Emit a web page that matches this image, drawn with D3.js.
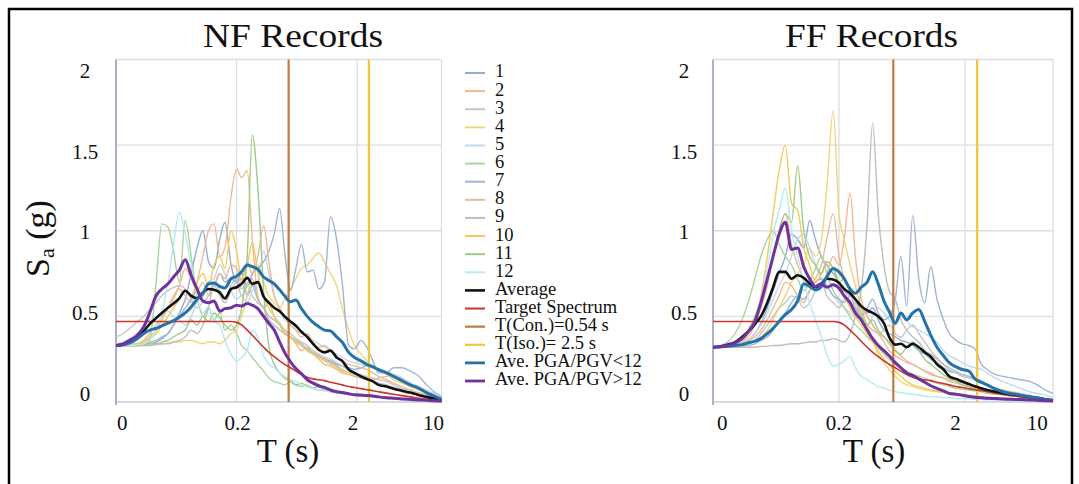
<!DOCTYPE html>
<html>
<head>
<meta charset="utf-8">
<script src="https://cdnjs.cloudflare.com/ajax/libs/d3/7.8.5/d3.min.js"></script>
<style>
  body { margin: 0; background: #fff; }
  svg { display: block; font-family: "Liberation Serif", "Times New Roman", serif; }
</style>
</head>
<body>
<svg id="chart" width="1079" height="484"></svg>
<script>
// Spectral periods T (s) shared by every spectrum
const periods = [
  0.02, 0.023, 0.026, 0.03, 0.034, 0.038, 0.043, 0.048, 0.054, 0.06,
  0.067, 0.075, 0.084, 0.094, 0.105, 0.117, 0.13, 0.145, 0.16, 0.18,
  0.2, 0.22, 0.245, 0.27, 0.3, 0.335, 0.37, 0.41, 0.455, 0.5,
  0.56, 0.62, 0.69, 0.77, 0.86, 0.96, 1.07, 1.2, 1.35, 1.5,
  1.7, 1.9, 2.15, 2.4, 2.7, 3.0, 3.5, 4.0, 4.7, 5.5,
  6.5, 7.5, 8.7, 10
];

// Design (target) spectrum, Sa in g
const targetSpectrum = [
  0.47,0.47,0.47,0.47,0.47,0.47,0.47,0.47,0.47,0.47,
  0.47,0.47,0.47,0.47,0.47,0.47,0.47,0.47,0.47,0.47,
  0.465,0.45,0.42,0.39,0.355,0.32,0.29,0.265,0.24,0.22,
  0.20,0.18,0.16,0.145,0.135,0.13,0.125,0.115,0.108,0.10,
  0.09,0.085,0.078,0.072,0.066,0.06,0.052,0.045,0.037,0.03,
  0.022,0.016,0.01,0.005
];

const periodConv = 0.54;   // T(Con.)
const periodIso = 2.5;     // T(Iso.)

// Near-fault records 1..12
const nfRecords = [
  [0.33,0.33,0.33,0.33,0.335,0.34,0.35,0.37,0.40,0.45,
   0.52,0.60,0.75,0.90,1.00,0.82,0.78,0.95,1.05,0.80,
   0.70,0.75,0.62,0.68,0.60,0.55,0.50,0.48,0.45,0.40,
   0.38,0.35,0.33,0.30,0.28,0.27,0.25,0.24,0.22,0.21,
   0.20,0.19,0.20,0.21,0.20,0.18,0.17,0.15,0.12,0.10,
   0.08,0.06,0.04,0.02],
  [0.33,0.33,0.335,0.34,0.35,0.38,0.42,0.48,0.55,0.62,
   0.66,0.62,0.58,0.70,0.85,1.00,1.04,0.85,0.90,1.20,
   1.36,1.31,1.35,0.95,0.62,0.55,0.58,0.50,0.46,0.40,
   0.38,0.34,0.30,0.32,0.28,0.25,0.22,0.21,0.19,0.17,
   0.16,0.15,0.14,0.13,0.13,0.14,0.15,0.16,0.14,0.11,
   0.08,0.055,0.035,0.015],
  [0.38,0.40,0.43,0.47,0.50,0.54,0.58,0.62,0.65,0.67,
   0.68,0.66,0.60,0.55,0.58,0.62,0.70,0.65,0.60,0.68,
   0.72,0.66,0.70,0.62,0.58,0.55,0.50,0.48,0.46,0.42,
   0.40,0.37,0.35,0.33,0.30,0.28,0.26,0.25,0.23,0.21,
   0.19,0.17,0.16,0.15,0.14,0.13,0.12,0.10,0.08,0.07,
   0.055,0.045,0.035,0.02],
  [0.33,0.33,0.33,0.33,0.33,0.335,0.34,0.34,0.345,0.35,
   0.35,0.36,0.36,0.35,0.34,0.35,0.35,0.34,0.36,0.40,
   0.42,0.50,0.62,0.75,0.80,0.70,0.62,0.58,0.55,0.60,
   0.66,0.72,0.78,0.80,0.84,0.87,0.82,0.75,0.68,0.55,
   0.42,0.33,0.28,0.24,0.21,0.19,0.16,0.13,0.11,0.09,
   0.07,0.05,0.035,0.02],
  [0.34,0.35,0.37,0.40,0.44,0.48,0.50,0.52,0.53,0.50,
   0.48,0.45,0.50,0.58,0.62,0.70,0.72,0.80,0.75,0.65,
   0.60,0.62,0.58,0.65,0.70,0.88,0.75,0.62,0.55,0.48,
   0.45,0.42,0.40,0.38,0.36,0.34,0.32,0.30,0.28,0.26,
   0.24,0.23,0.22,0.21,0.20,0.19,0.18,0.16,0.14,0.11,
   0.09,0.07,0.05,0.03],
  [0.33,0.33,0.33,0.335,0.34,0.36,0.70,1.04,1.02,0.88,
   0.70,1.06,0.85,0.62,0.50,0.55,0.48,0.52,0.42,0.45,
   0.40,0.33,0.30,0.26,0.22,0.18,0.14,0.12,0.11,0.10,
   0.12,0.10,0.09,0.10,0.08,0.07,0.07,0.06,0.055,0.05,
   0.045,0.045,0.04,0.035,0.03,0.03,0.025,0.02,0.02,0.015,
   0.012,0.01,0.008,0.005],
  [0.33,0.33,0.33,0.335,0.34,0.35,0.36,0.38,0.40,0.45,
   0.50,0.55,0.60,0.65,0.62,0.70,0.68,0.75,0.70,0.72,
   0.70,0.72,0.68,0.75,0.78,0.82,0.88,0.98,1.13,0.88,
   0.65,0.78,0.92,0.76,0.77,0.66,0.70,1.08,0.95,0.70,
   0.33,0.31,0.36,0.32,0.24,0.17,0.17,0.20,0.20,0.18,
   0.15,0.10,0.06,0.03],
  [0.33,0.33,0.335,0.34,0.36,0.40,0.45,0.50,0.55,0.60,
   0.68,0.78,0.72,0.65,0.70,0.62,0.68,0.75,0.72,0.80,
   0.78,0.70,0.82,0.75,0.85,1.03,0.82,0.62,0.55,0.50,
   0.45,0.42,0.38,0.40,0.35,0.32,0.33,0.30,0.26,0.24,
   0.22,0.21,0.20,0.19,0.17,0.15,0.13,0.11,0.09,0.07,
   0.05,0.04,0.03,0.015],
  [0.33,0.33,0.33,0.33,0.33,0.33,0.335,0.34,0.34,0.35,
   0.36,0.38,0.42,0.40,0.45,0.55,0.68,0.62,0.58,0.65,
   0.70,0.62,0.68,0.72,0.60,0.55,0.48,0.45,0.42,0.40,
   0.38,0.36,0.34,0.31,0.29,0.27,0.25,0.23,0.21,0.19,
   0.17,0.15,0.14,0.13,0.12,0.11,0.10,0.085,0.07,0.055,
   0.045,0.035,0.025,0.015],
  [0.33,0.33,0.335,0.34,0.35,0.37,0.40,0.45,0.50,0.55,
   0.60,0.65,0.62,0.70,0.75,0.68,0.80,0.85,0.78,1.00,
   0.88,0.72,0.80,0.93,0.75,0.62,0.55,0.50,0.45,0.42,
   0.38,0.35,0.33,0.30,0.28,0.26,0.24,0.22,0.20,0.18,
   0.17,0.16,0.15,0.14,0.12,0.10,0.09,0.08,0.06,0.05,
   0.04,0.03,0.02,0.01],
  [0.33,0.33,0.33,0.33,0.335,0.34,0.34,0.35,0.36,0.38,
   0.40,0.42,0.48,0.45,0.50,0.47,0.52,0.49,0.45,0.42,
   0.45,0.55,0.85,1.56,1.25,0.65,0.33,0.22,0.17,0.14,
   0.12,0.10,0.11,0.09,0.08,0.09,0.07,0.065,0.06,0.055,
   0.05,0.045,0.045,0.04,0.035,0.03,0.028,0.025,0.02,0.018,
   0.015,0.012,0.008,0.005],
  [0.33,0.33,0.33,0.335,0.34,0.36,0.42,0.52,0.70,0.92,
   1.11,0.98,0.80,0.62,0.52,0.56,0.47,0.45,0.36,0.28,
   0.24,0.26,0.30,0.42,0.38,0.27,0.22,0.20,0.17,0.15,
   0.13,0.12,0.10,0.09,0.08,0.07,0.065,0.06,0.055,0.05,
   0.045,0.04,0.038,0.035,0.03,0.028,0.025,0.02,0.018,0.015,
   0.012,0.01,0.008,0.005]
];

const nfAverage = [
  0.33,0.335,0.35,0.38,0.415,0.455,0.49,0.52,0.55,0.575,
  0.605,0.65,0.62,0.605,0.64,0.66,0.655,0.64,0.605,0.66,
  0.67,0.69,0.725,0.69,0.70,0.615,0.58,0.55,0.53,0.50,
  0.47,0.445,0.41,0.38,0.34,0.305,0.29,0.30,0.26,0.24,
  0.19,0.17,0.15,0.135,0.12,0.10,0.09,0.078,0.066,0.055,
  0.04,0.03,0.02,0.01
];
const nfAveLow = [   // PGA/PGV < 12
  0.33,0.335,0.345,0.37,0.40,0.42,0.43,0.445,0.46,0.475,
  0.495,0.52,0.555,0.60,0.635,0.69,0.695,0.675,0.665,0.72,
  0.735,0.76,0.80,0.79,0.775,0.73,0.71,0.69,0.655,0.62,
  0.585,0.595,0.545,0.50,0.465,0.44,0.42,0.415,0.38,0.35,
  0.29,0.26,0.24,0.22,0.205,0.19,0.17,0.15,0.125,0.10,
  0.08,0.055,0.035,0.015
];
const nfAveHigh = [  // PGA/PGV > 12
  0.33,0.34,0.36,0.39,0.44,0.52,0.62,0.66,0.69,0.73,
  0.77,0.83,0.74,0.66,0.59,0.58,0.59,0.53,0.545,0.55,
  0.565,0.56,0.575,0.565,0.545,0.50,0.46,0.42,0.35,0.29,
  0.235,0.195,0.165,0.13,0.11,0.095,0.085,0.07,0.06,0.055,
  0.048,0.042,0.04,0.038,0.035,0.03,0.025,0.022,0.018,0.015,
  0.012,0.01,0.007,0.005
];

// Far-fault records 1..12
const ffRecords = [
  [0.32,0.32,0.325,0.33,0.34,0.36,0.40,0.46,0.55,0.65,
   0.75,0.85,0.98,0.95,0.90,1.06,0.95,0.85,0.80,0.75,
   0.70,0.65,0.62,0.60,0.55,0.52,0.55,0.48,0.42,0.40,
   0.38,0.36,0.35,0.33,0.30,0.28,0.25,0.23,0.20,0.18,
   0.17,0.16,0.15,0.14,0.12,0.10,0.08,0.065,0.05,0.04,
   0.03,0.025,0.02,0.01],
  [0.32,0.32,0.325,0.33,0.35,0.38,0.45,0.55,0.68,0.85,
   1.00,1.10,0.92,0.80,0.72,0.70,0.65,0.68,0.75,0.85,
   0.80,0.95,1.22,0.85,0.60,0.50,0.45,0.40,0.38,0.34,
   0.30,0.27,0.24,0.22,0.20,0.18,0.16,0.15,0.14,0.12,
   0.11,0.10,0.09,0.085,0.08,0.07,0.06,0.05,0.04,0.035,
   0.03,0.025,0.02,0.01],
  [0.32,0.32,0.32,0.325,0.33,0.34,0.36,0.40,0.45,0.50,
   0.55,0.58,0.62,0.60,0.55,0.58,0.65,0.70,0.62,0.58,
   0.55,0.60,0.65,0.58,0.50,0.45,0.42,0.40,0.42,0.45,
   0.40,0.38,0.42,0.45,0.40,0.35,0.30,0.26,0.22,0.19,
   0.17,0.15,0.14,0.13,0.12,0.10,0.085,0.07,0.06,0.05,
   0.04,0.03,0.02,0.01],
  [0.32,0.32,0.32,0.325,0.33,0.34,0.36,0.38,0.42,0.48,
   0.55,0.62,0.70,0.75,0.80,0.90,0.85,0.95,1.25,1.70,
   1.10,0.95,0.80,0.68,0.55,0.45,0.36,0.28,0.23,0.19,
   0.15,0.12,0.10,0.09,0.08,0.07,0.065,0.06,0.055,0.05,
   0.045,0.04,0.035,0.03,0.028,0.025,0.022,0.02,0.018,0.015,
   0.012,0.01,0.008,0.005],
  [0.32,0.32,0.325,0.33,0.34,0.36,0.40,0.45,0.52,0.60,
   0.68,0.75,0.85,0.95,0.98,0.90,0.80,0.72,0.68,0.62,
   0.58,0.55,0.52,0.50,0.48,0.45,0.50,0.55,0.52,0.48,
   0.45,0.50,0.47,0.44,0.42,0.40,0.38,0.35,0.30,0.27,
   0.25,0.23,0.21,0.20,0.19,0.17,0.14,0.12,0.10,0.08,
   0.06,0.05,0.04,0.025],
  [0.32,0.33,0.35,0.40,0.48,0.58,0.72,0.85,0.95,1.00,
   0.92,0.85,0.80,0.72,0.65,0.70,0.78,0.85,0.75,0.65,
   0.60,0.55,0.50,0.45,0.42,0.38,0.35,0.32,0.28,0.25,
   0.22,0.20,0.18,0.16,0.15,0.14,0.12,0.11,0.10,0.09,
   0.08,0.075,0.07,0.065,0.06,0.05,0.045,0.04,0.035,0.03,
   0.025,0.02,0.015,0.01],
  [0.32,0.32,0.32,0.32,0.325,0.33,0.34,0.36,0.38,0.42,
   0.48,0.52,0.58,0.62,0.60,0.65,0.70,0.72,0.68,0.62,
   0.60,0.58,0.62,0.55,0.50,0.55,0.60,0.52,0.48,0.50,
   0.60,0.85,0.56,1.09,0.72,0.58,0.79,0.60,0.48,0.40,
   0.36,0.34,0.33,0.31,0.22,0.19,0.16,0.15,0.14,0.13,
   0.12,0.10,0.07,0.05],
  [0.32,0.32,0.325,0.33,0.34,0.36,0.38,0.42,0.48,0.55,
   0.62,0.70,0.68,0.62,0.58,0.65,0.72,0.80,0.95,1.10,
   0.85,0.72,0.65,0.60,0.55,0.50,0.45,0.40,0.35,0.30,
   0.27,0.25,0.23,0.22,0.20,0.18,0.17,0.15,0.14,0.13,
   0.12,0.11,0.10,0.09,0.08,0.07,0.06,0.05,0.045,0.04,
   0.03,0.025,0.02,0.01],
  [0.32,0.32,0.32,0.32,0.32,0.32,0.32,0.325,0.325,0.33,
   0.33,0.335,0.34,0.34,0.345,0.35,0.35,0.36,0.36,0.37,
   0.36,0.35,0.40,0.50,0.65,1.05,1.63,1.10,0.80,0.65,
   0.60,0.48,0.42,0.38,0.35,0.30,0.28,0.25,0.22,0.20,
   0.18,0.16,0.15,0.13,0.12,0.10,0.08,0.065,0.05,0.04,
   0.03,0.025,0.02,0.01],
  [0.32,0.32,0.325,0.33,0.35,0.40,0.48,0.62,0.85,1.10,
   1.35,1.50,1.16,1.12,0.90,0.80,0.70,0.75,0.82,0.78,
   0.70,0.62,0.55,0.50,0.45,0.40,0.35,0.30,0.25,0.22,
   0.18,0.15,0.12,0.10,0.09,0.08,0.07,0.065,0.06,0.055,
   0.05,0.045,0.04,0.035,0.03,0.028,0.025,0.022,0.02,0.018,
   0.015,0.012,0.01,0.006],
  [0.32,0.32,0.33,0.34,0.37,0.42,0.50,0.60,0.72,0.85,
   1.00,1.10,1.05,1.38,1.00,0.85,0.80,0.75,0.82,0.78,
   0.70,0.72,0.65,0.60,0.52,0.45,0.48,0.42,0.38,0.35,
   0.30,0.28,0.32,0.35,0.30,0.25,0.22,0.19,0.16,0.14,
   0.12,0.10,0.09,0.08,0.07,0.06,0.05,0.045,0.04,0.035,
   0.03,0.025,0.02,0.01],
  [0.32,0.32,0.33,0.34,0.36,0.40,0.48,0.60,0.78,0.98,
   1.12,1.25,1.00,0.85,0.70,0.58,0.48,0.38,0.28,0.21,
   0.22,0.24,0.265,0.20,0.15,0.13,0.11,0.09,0.08,0.07,
   0.06,0.055,0.05,0.045,0.04,0.035,0.03,0.03,0.025,0.025,
   0.02,0.02,0.018,0.016,0.015,0.013,0.012,0.01,0.01,0.008,
   0.007,0.006,0.005,0.004]
];

const ffAverage = [
  0.32,0.325,0.335,0.35,0.38,0.41,0.455,0.50,0.58,0.67,
  0.76,0.76,0.72,0.74,0.725,0.69,0.67,0.69,0.72,0.715,
  0.695,0.66,0.635,0.60,0.56,0.535,0.52,0.50,0.46,0.38,
  0.335,0.34,0.32,0.34,0.32,0.29,0.265,0.22,0.19,0.15,
  0.135,0.12,0.105,0.092,0.08,0.07,0.06,0.052,0.045,0.038,
  0.03,0.024,0.016,0.01
];
const ffAveLow = [
  0.32,0.322,0.325,0.33,0.335,0.345,0.355,0.37,0.40,0.43,
  0.47,0.51,0.54,0.59,0.69,0.675,0.655,0.675,0.73,0.78,
  0.76,0.72,0.66,0.635,0.67,0.70,0.76,0.69,0.59,0.53,
  0.46,0.52,0.48,0.52,0.54,0.47,0.39,0.32,0.27,0.23,
  0.205,0.19,0.18,0.135,0.115,0.10,0.075,0.06,0.048,0.04,
  0.03,0.022,0.015,0.01
];
const ffAveHigh = [
  0.32,0.322,0.33,0.345,0.37,0.41,0.47,0.58,0.72,0.85,
  0.98,1.05,0.89,0.90,0.79,0.72,0.675,0.69,0.67,0.685,
  0.665,0.62,0.58,0.52,0.48,0.42,0.37,0.33,0.30,0.27,
  0.23,0.20,0.17,0.155,0.135,0.115,0.095,0.08,0.065,0.05,
  0.045,0.04,0.032,0.028,0.025,0.022,0.02,0.018,0.016,0.014,
  0.012,0.01,0.008,0.006
];

// Axis ticks
const xTickValues = [0.02, 0.2, 2, 10];
const xTickLabels = ["0", "0.2", "2", "10"];
const yTickValues = [0, 0.5, 1, 1.5, 2];
const yTickLabels = ["0", "0.5", "1", "1.5", "2"];

// Legend entries
const legendLabels = ["1","2","3","4","5","6","7","8","9","10","11","12",
  "Average","Target Spectrum","T(Con.)=0.54 s","T(Iso.)= 2.5 s",
  "Ave. PGA/PGV<12","Ave. PGA/PGV>12"];

// Styling
const recordColors = ["#93acd6","#f3b995","#c6c6c6","#f5d37a","#c3d8ef","#add39b",
                      "#a2b4d4","#e9bb97","#bebebe","#f2cb58","#9ecb8a","#b3ebf3"];
const cAverage = "#111111", cTarget = "#c9352d", cConv = "#c27b3f",
      cIso = "#f3c537", cLow = "#2372a9", cHigh = "#7131a0";

const svg = d3.select("#chart");

// outer frame
svg.append("rect")
  .attr("x", 9).attr("y", 9).attr("width", 1063).attr("height", 500)
  .attr("fill", "none").attr("stroke", "#000").attr("stroke-width", 2.5);

function drawPanel(cfg) {
  const x = d3.scaleLog().domain([0.02, 10]).range([cfg.left, cfg.right]);
  const y = d3.scaleLinear().domain([0, 2]).range([402, 59.5]);
  const xLab = d3.scaleLog().domain([0.02, 10]).range(cfg.labelRange);
  const yLab = d3.scaleLinear().domain([0, 2]).range([393, 70]);
  const g = svg.append("g");

  const clipId = "clip-" + cfg.id;
  svg.append("clipPath").attr("id", clipId).append("rect")
    .attr("x", cfg.left).attr("y", 55).attr("width", cfg.right - cfg.left + 2).attr("height", 350);

  // gridlines
  g.selectAll(".hg").data(yTickValues.slice(1)).join("line")
    .attr("x1", cfg.left).attr("x2", cfg.right)
    .attr("y1", d => y(d)).attr("y2", d => y(d))
    .attr("stroke", "#dcdde8").attr("stroke-width", 1.3);
  g.selectAll(".vg").data(xTickValues.slice(1)).join("line")
    .attr("x1", d => x(d)).attr("x2", d => x(d))
    .attr("y1", y(0)).attr("y2", y(2))
    .attr("stroke", "#dcdde8").attr("stroke-width", 1.3);
  // baseline and left axis
  g.append("line").attr("x1", cfg.left).attr("x2", cfg.right)
    .attr("y1", y(0)).attr("y2", y(0))
    .attr("stroke", "#c9ccda").attr("stroke-width", 1.5);
  g.append("line").attr("x1", x(0.02)).attr("x2", x(0.02))
    .attr("y1", y(0) + 3).attr("y2", y(2))
    .attr("stroke", "#aab0c6").attr("stroke-width", 2);

  const line = d3.line()
    .x(d => x(d[0])).y(d => y(d[1]))
    .curve(d3.curveMonotoneX);
  const pts = vals => periods.map((t, i) => [t, vals[i]]);

  const plot = g.append("g").attr("clip-path", `url(#${clipId})`);

  plot.selectAll(".rec").data(cfg.records).join("path")
    .attr("d", d => line(pts(d)))
    .attr("fill", "none")
    .attr("stroke", (d, i) => recordColors[i])
    .attr("stroke-width", 1.4)
    .attr("stroke-linejoin", "round");

  // period markers
  [[periodConv, cConv], [periodIso, cIso]].forEach(([p, c]) => {
    plot.append("line")
      .attr("x1", x(p)).attr("x2", x(p))
      .attr("y1", y(0)).attr("y2", y(2))
      .attr("stroke", c).attr("stroke-width", 2.2);
  });

  const mains = [
    [targetSpectrum, cTarget, 1.6],
    [cfg.average, cAverage, 2.6],
    [cfg.low, cLow, 3],
    [cfg.high, cHigh, 3]
  ];
  mains.forEach(([vals, c, w]) => {
    plot.append("path")
      .attr("d", line(pts(vals)))
      .attr("fill", "none").attr("stroke", c).attr("stroke-width", w)
      .attr("stroke-linejoin", "round");
  });

  // tick labels
  const xa = g.append("g").attr("transform", "translate(0,430)")
    .call(d3.axisBottom(xLab).tickValues(xTickValues)
      .tickFormat((d, i) => xTickLabels[i]).tickSize(0));
  xa.select(".domain").remove();
  xa.attr("font-family", null).attr("font-size", null);
  xa.selectAll("text").attr("y", 0).attr("dy", 0)
    .attr("font-size", 21).attr("fill", "#111");

  const ya = g.append("g").attr("transform", `translate(${cfg.yLabelX},0)`)
    .call(d3.axisLeft(yLab).tickValues(yTickValues)
      .tickFormat((d, i) => yTickLabels[i]).tickSize(0));
  ya.select(".domain").remove();
  ya.attr("font-family", null).attr("font-size", null);
  ya.selectAll("text").attr("x", 0).attr("dy", "0.35em")
    .attr("text-anchor", "middle")
    .attr("font-size", 21).attr("fill", "#111");

  // title
  g.append("text")
    .attr("x", cfg.titleX).attr("y", 47)
    .attr("text-anchor", "middle")
    .attr("font-size", 34)
    .attr("textLength", cfg.titleWidth).attr("lengthAdjust", "spacingAndGlyphs")
    .attr("fill", "#111")
    .text(cfg.title);

  // x-axis title
  g.append("text")
    .attr("x", cfg.xTitleX).attr("y", 462)
    .attr("text-anchor", "middle")
    .attr("font-size", 33).attr("fill", "#111")
    .text("T (s)");
}

drawPanel({
  id: "nf", left: 116, right: 441.5, labelRange: [121.7, 433],
  yLabelX: 85, title: "NF Records", titleX: 293, titleWidth: 180, xTitleX: 288,
  records: nfRecords, average: nfAverage, low: nfAveLow, high: nfAveHigh
});
drawPanel({
  id: "ff", left: 713, right: 1053, labelRange: [721.7, 1036.7],
  yLabelX: 684, title: "FF Records", titleX: 871.5, titleWidth: 173, xTitleX: 874,
  records: ffRecords, average: ffAverage, low: ffAveLow, high: ffAveHigh
});

// y-axis title S_a (g)
const yt = svg.append("text")
  .attr("transform", "translate(49,277) rotate(-90)")
  .attr("fill", "#111");
yt.append("tspan").attr("font-size", 34).text("S");
yt.append("tspan").attr("font-size", 22).attr("dy", 5).text("a");
yt.append("tspan").attr("font-size", 34).attr("dy", -5).text(" (g)");

// legend
const legendColors = recordColors.concat([cAverage, cTarget, cConv, cIso, cLow, cHigh]);
const legendWidths = recordColors.map(() => 2).concat([2.6, 2, 2.2, 2.2, 2.8, 2.8]);
const leg = svg.append("g");
const rowY = d3.scaleLinear().domain([0, legendLabels.length - 1]).range([71, 379]);
legendLabels.forEach((lab, i) => {
  leg.append("line")
    .attr("x1", 465).attr("x2", 485)
    .attr("y1", rowY(i) + 2).attr("y2", rowY(i) + 2)
    .attr("stroke", legendColors[i]).attr("stroke-width", legendWidths[i]);
  leg.append("text")
    .attr("x", 495).attr("y", rowY(i)).attr("dy", "0.35em")
    .attr("font-size", 18.5).attr("fill", "#111")
    .text(lab);
});
</script>
</body>
</html>
